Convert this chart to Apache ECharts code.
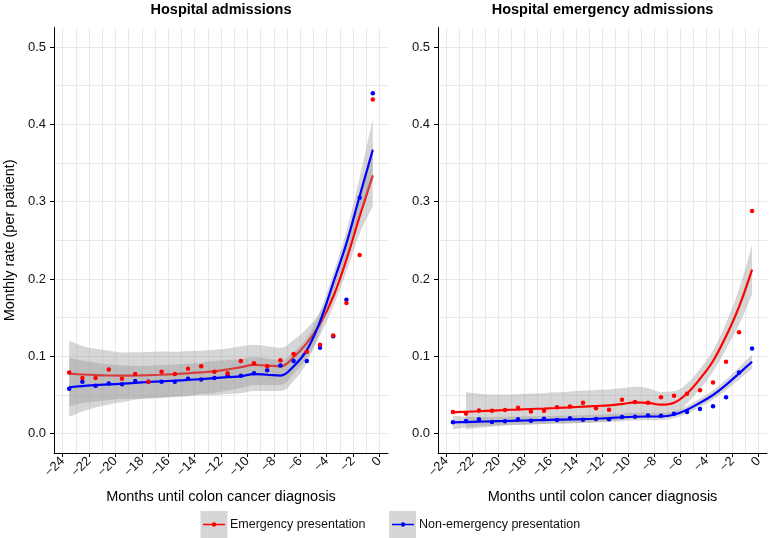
<!DOCTYPE html>
<html lang="en">
<head>
<meta charset="UTF-8">
<title>Hospital admissions before colon cancer diagnosis</title>
<script src="https://cdn.jsdelivr.net/npm/echarts@6/dist/echarts.min.js"></script>
<style>
    html, body { margin: 0; padding: 0; background: #fff; }
    #chart { width: 772px; height: 538px; }
</style>
</head>
<body>
<div id="chart"></div>
<script>
// monthly rates are plotted at mid-month positions
var months = [-23.5, -22.5, -21.5, -20.5, -19.5, -18.5, -17.5, -16.5, -15.5, -14.5, -13.5, -12.5,
    -11.5, -10.5, -9.5, -8.5, -7.5, -6.5, -5.5, -4.5, -3.5, -2.5, -1.5, -0.5];
var monthTicks = [-24, -22, -20, -18, -16, -14, -12, -10, -8, -6, -4, -2, 0];
var monthGrid = [-24, -23, -22, -21, -20, -19, -18, -17, -16, -15, -14, -13, -12,
    -11, -10, -9, -8, -7, -6, -5, -4, -3, -2, -1, 0];
var rateTicks = [0, 0.1, 0.2, 0.3, 0.4, 0.5];
var rateGrid = [0, 0.05, 0.1, 0.15, 0.2, 0.25, 0.3, 0.35, 0.4, 0.45, 0.5];

// Hospital admissions
var admEmergPts = [0.079, 0.072, 0.072, 0.083, 0.071, 0.077, 0.067, 0.080, 0.077, 0.084, 0.087, 0.080,
    0.078, 0.094, 0.091, 0.087, 0.095, 0.103, 0.106, 0.115, 0.127, 0.169, 0.231, 0.432];
var admNonPts = [0.058, 0.067, 0.062, 0.065, 0.064, 0.068, 0.067, 0.067, 0.067, 0.071, 0.070, 0.072,
    0.075, 0.075, 0.078, 0.082, 0.088, 0.094, 0.094, 0.111, 0.126, 0.173, 0.305, 0.440];
var admEmergFit = [0.0775, 0.0765, 0.0757, 0.0752, 0.0750, 0.0752, 0.0756, 0.0762, 0.0770, 0.0780, 0.0793, 0.0806,
    0.0830, 0.0860, 0.0890, 0.0880, 0.0870, 0.0990, 0.117, 0.142, 0.177, 0.225, 0.281, 0.334];
var admEmergLo = [0.035, 0.0395, 0.0417, 0.0432, 0.045, 0.0452, 0.0456, 0.0462, 0.048, 0.049, 0.0513, 0.0526,
    0.056, 0.059, 0.063, 0.063, 0.063, 0.077, 0.098, 0.127, 0.164, 0.209, 0.258, 0.294];
var admEmergHi = [0.120, 0.1135, 0.1097, 0.1072, 0.105, 0.1052, 0.1056, 0.1062, 0.106, 0.107, 0.1073, 0.1086,
    0.110, 0.113, 0.115, 0.113, 0.111, 0.121, 0.136, 0.157, 0.190, 0.241, 0.304, 0.374];
var admNonFit = [0.060, 0.0615, 0.0628, 0.0637, 0.0646, 0.0657, 0.0668, 0.0677, 0.0685, 0.0695, 0.0706, 0.0718,
    0.0732, 0.0741, 0.0771, 0.0762, 0.0750, 0.0870, 0.108, 0.145, 0.195, 0.246, 0.307, 0.367];
var admNonLo = [0.0215, 0.0285, 0.0338, 0.0377, 0.0406, 0.0437, 0.0458, 0.0467, 0.0475, 0.0485, 0.0496, 0.0498,
    0.0512, 0.0521, 0.0551, 0.0552, 0.055, 0.068, 0.092, 0.132, 0.183, 0.230, 0.283, 0.327];
var admNonHi = [0.0985, 0.0945, 0.0918, 0.0897, 0.0886, 0.0877, 0.0878, 0.0887, 0.0895, 0.0905, 0.0916, 0.0938,
    0.0952, 0.0961, 0.0991, 0.0972, 0.095, 0.106, 0.124, 0.158, 0.207, 0.262, 0.331, 0.407];

// Hospital emergency admissions
var emgEmergPts = [0.028, 0.026, 0.030, 0.0296, 0.0305, 0.0335, 0.0288, 0.0296, 0.034, 0.035, 0.040, 0.033,
    0.031, 0.044, 0.041, 0.040, 0.047, 0.049, 0.0515, 0.056, 0.066, 0.093, 0.131, 0.288];
var emgNonPts = [0.0146, 0.0163, 0.0185, 0.015, 0.0159, 0.0185, 0.0167, 0.0193, 0.0176, 0.020, 0.018, 0.0189,
    0.0185, 0.0215, 0.022, 0.0236, 0.023, 0.0258, 0.028, 0.032, 0.0356, 0.047, 0.079, 0.110];
var emgEmergFit = [0.0276, 0.0283, 0.029, 0.0298, 0.0306, 0.0312, 0.0319, 0.0325, 0.0332, 0.034, 0.0349, 0.0358,
    0.0366, 0.0383, 0.0405, 0.0398, 0.0375, 0.040, 0.052, 0.071, 0.094, 0.126, 0.164, 0.212];
var emgEmergLo = [null, 0.0055, 0.0075, 0.009, 0.0105, 0.0115, 0.012, 0.0125, 0.013, 0.0135, 0.014, 0.015,
    0.016, 0.018, 0.0205, 0.021, 0.021, 0.025, 0.039, 0.058, 0.080, 0.109, 0.141, 0.180];
var emgEmergHi = [null, 0.0535, 0.0515, 0.0505, 0.0505, 0.051, 0.0518, 0.0525, 0.0534, 0.0545, 0.0558, 0.0566,
    0.0572, 0.0586, 0.0605, 0.0586, 0.054, 0.055, 0.065, 0.084, 0.108, 0.143, 0.187, 0.244];
var emgNonFit = [0.0146, 0.015, 0.0155, 0.016, 0.0164, 0.0168, 0.0172, 0.0176, 0.0181, 0.0183, 0.0187, 0.0193,
    0.0202, 0.0212, 0.0219, 0.0222, 0.0222, 0.0245, 0.031, 0.040, 0.050, 0.063, 0.078, 0.093];
var emgNonLo = [0.0056, 0.008, 0.0095, 0.0105, 0.011, 0.0115, 0.012, 0.0125, 0.013, 0.0133, 0.0137, 0.0143,
    0.0152, 0.0162, 0.0169, 0.0172, 0.0177, 0.020, 0.026, 0.0345, 0.044, 0.056, 0.070, 0.084];
var emgNonHi = [0.0236, 0.022, 0.0215, 0.0215, 0.0218, 0.0221, 0.0224, 0.0227, 0.0232, 0.0233, 0.0237, 0.0243,
    0.0252, 0.0262, 0.0269, 0.0272, 0.0267, 0.029, 0.036, 0.0455, 0.056, 0.070, 0.086, 0.102];

var RED = '#ff0000', BLUE = '#0000ff';
var FONT = '"Liberation Sans", Arial, Helvetica, sans-serif';
var BAND = 'rgba(153,153,153,0.4)';
var GRIDLINE = '#e9e9e9';
var X_MIN = -24.65, X_MAX = 0.65, Y_MIN = -0.025, Y_MAX = 0.525;
var TOP = 27.6, HEIGHT = 425.4;

var panels = [
    {left: 54, width: 334, title: 'Hospital admissions', yName: 'Monthly rate (per patient)'},
    {left: 438, width: 329, title: 'Hospital emergency admissions', yName: ''}
];

function fmtMonth(v) {
    return v < 0 ? '\u2212' + Math.abs(v) : String(v);
}

// each panel: one grid carrying the visible value axes, one hidden category grid
// (one category per month, -24..0) that carries the data so the bands can stack
var grids = [], xAxes = [], yAxes = [], graphics = [];
panels.forEach(function (p, gi) {
    var perMonth = p.width / (X_MAX - X_MIN);
    grids.push({left: p.left, top: TOP, width: p.width, height: HEIGHT});
    grids.push({left: p.left + (-24 - X_MIN) * perMonth, top: TOP, width: 24 * perMonth, height: HEIGHT});

    xAxes.push({
        type: 'value', gridIndex: 2 * gi, min: X_MIN, max: X_MAX,
        axisLine: {show: false}, axisLabel: {show: false},
        axisTick: {show: false, customValues: monthGrid},
        splitLine: {show: true, lineStyle: {color: GRIDLINE, width: 1}}
    });
    xAxes.push({
        type: 'value', gridIndex: 2 * gi, min: X_MIN, max: X_MAX, position: 'bottom',
        axisLine: {show: true, onZero: false, lineStyle: {color: '#000', width: 1}},
        axisTick: {show: true, length: 4, customValues: monthTicks, lineStyle: {color: '#000'}},
        axisLabel: {customValues: monthTicks, rotate: 45, margin: 6, fontSize: 13, color: '#111',
            fontFamily: FONT, formatter: fmtMonth},
        splitLine: {show: false},
        name: 'Months until colon cancer diagnosis', nameLocation: 'middle', nameGap: 36,
        nameTextStyle: {fontSize: 14.5, color: '#000', fontFamily: FONT}
    });
    xAxes.push({type: 'category', gridIndex: 2 * gi + 1, data: months, boundaryGap: true, show: false});

    yAxes.push({
        type: 'value', gridIndex: 2 * gi, min: Y_MIN, max: Y_MAX,
        axisLine: {show: false}, axisLabel: {show: false},
        axisTick: {show: false, customValues: rateGrid},
        splitLine: {show: true, lineStyle: {color: GRIDLINE, width: 1}}
    });
    yAxes.push({
        type: 'value', gridIndex: 2 * gi, min: Y_MIN, max: Y_MAX, position: 'left',
        axisLine: {show: true, onZero: false, lineStyle: {color: '#000', width: 1}},
        axisTick: {show: true, length: 4, customValues: rateTicks, lineStyle: {color: '#000'}},
        axisLabel: {customValues: rateTicks, margin: 8, fontSize: 13, color: '#111', fontFamily: FONT,
            formatter: function (v) { return v.toFixed(1); }},
        splitLine: {show: false},
        name: p.yName, nameLocation: 'middle', nameGap: 37,
        nameTextStyle: {fontSize: 14.5, color: '#000', fontFamily: FONT}
    });
    yAxes.push({type: 'value', gridIndex: 2 * gi + 1, min: Y_MIN, max: Y_MAX, show: false,
        splitLine: {show: false}});

    graphics.push({
        type: 'text', x: p.left + p.width / 2, y: 10,
        style: {text: p.title, fontSize: 14.5, fontWeight: 'bold', fontFamily: FONT, fill: '#000',
            align: 'center', verticalAlign: 'middle'}
    });
});

function onPanel(gi) {
    return {xAxisIndex: 3 * gi + 2, yAxisIndex: 3 * gi + 2};
}

function gaps(ys) {
    return ys.map(function (v) { return v == null ? '-' : v; });
}

// layer: the non-emergency ribbon is drawn over the emergency fit line, as in the original
function bandSeries(lo, hi, gi, key, layer) {
    var span = lo.map(function (v, i) { return v == null ? '-' : +(hi[i] - v).toFixed(4); });
    var common = Object.assign({type: 'line', stack: key, smooth: 0.4, symbol: 'none', silent: true,
        z: layer, lineStyle: {opacity: 0}}, onPanel(gi));
    return [
        Object.assign({}, common, {data: gaps(lo)}),
        Object.assign({}, common, {data: span, areaStyle: {color: BAND, opacity: 1}})
    ];
}

function fitSeries(name, fit, color, gi, layer) {
    return Object.assign({type: 'line', name: name, data: fit, smooth: 0.4, symbol: 'none', z: layer,
        lineStyle: {color: color, width: 2.2}, itemStyle: {color: color}}, onPanel(gi));
}

function pointSeries(name, pts, color, gi) {
    return Object.assign({type: 'scatter', name: name, data: pts, symbolSize: 4.5, z: 5,
        itemStyle: {color: color, opacity: 1}}, onPanel(gi));
}

var E = 'Emergency presentation', N = 'Non-emergency presentation';
var series = [].concat(
    bandSeries(admEmergLo, admEmergHi, 0, 'ae', 2),
    [fitSeries(E, admEmergFit, RED, 0, 2)],
    bandSeries(admNonLo, admNonHi, 0, 'an', 3),
    [fitSeries(N, admNonFit, BLUE, 0, 4)],
    [pointSeries(N, admNonPts, BLUE, 0), pointSeries(E, admEmergPts, RED, 0)],
    bandSeries(emgEmergLo, emgEmergHi, 1, 'ee', 2),
    [fitSeries(E, emgEmergFit, RED, 1, 2)],
    bandSeries(emgNonLo, emgNonHi, 1, 'en', 3),
    [fitSeries(N, emgNonFit, BLUE, 1, 4)],
    [pointSeries(N, emgNonPts, BLUE, 1), pointSeries(E, emgEmergPts, RED, 1)]
);

// legend key: gray box behind a line with a dot
var keyIcon = 'path://M0,1.6H24V3.4H0Z M9.6,2.5A2.4,2.4,0,1,1,14.4,2.5A2.4,2.4,0,1,1,9.6,2.5Z';
graphics.push({type: 'rect', shape: {x: 200.5, y: 511, width: 27, height: 27}, style: {fill: '#d6d6d6'}});
graphics.push({type: 'rect', shape: {x: 389, y: 511, width: 27, height: 27}, style: {fill: '#d6d6d6'}});

function legendFor(name, left, color) {
    return {data: [name], left: left, top: 518, padding: 0, itemWidth: 22, itemHeight: 14,
        icon: keyIcon, itemStyle: {color: color, borderWidth: 0}, selectedMode: false,
        textStyle: {fontSize: 12.5, color: '#111', fontFamily: FONT}};
}

var chart = echarts.init(document.getElementById('chart'));
chart.setOption({
    animation: false,
    textStyle: {fontFamily: FONT},
    grid: grids,
    xAxis: xAxes,
    yAxis: yAxes,
    legend: [legendFor(E, 203, RED), legendFor(N, 392, BLUE)],
    graphic: graphics,
    series: series
});
</script>
</body>
</html>
